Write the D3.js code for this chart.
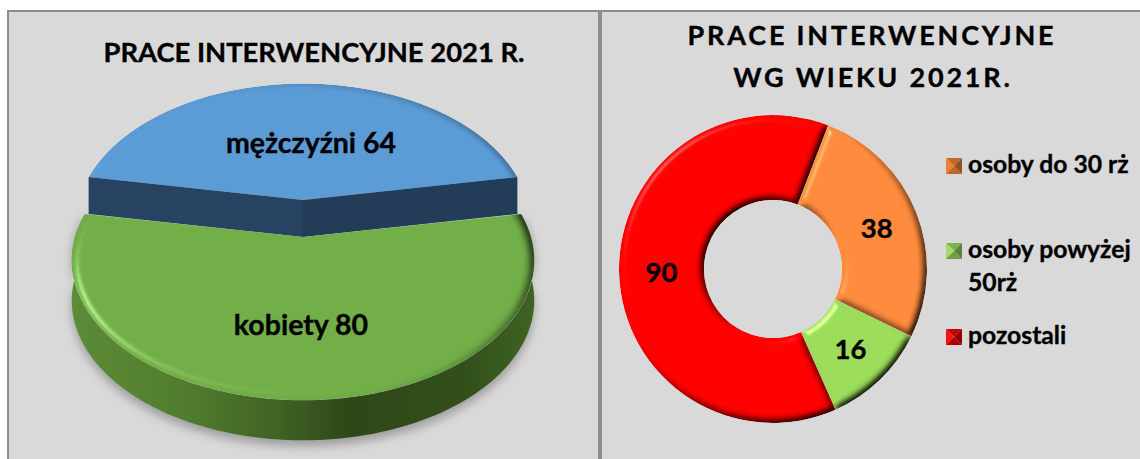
<!DOCTYPE html>
<html lang="pl">
<head>
<meta charset="utf-8">
<title>Prace interwencyjne 2021</title>
<script src="https://d3js.org/d3.v7.min.js"></script>
<style>
  html, body { margin: 0; background: #fff; }
  svg { display: block; }
  text { font-family: Lato, "Open Sans", sans-serif; font-weight: 700; fill: #000; stroke: #000; stroke-width: 0.35px; }
</style>
</head>
<body>
<svg id="chart" width="1140" height="459"></svg>
<script>
// Pie data
const pieCategories = ['mężczyźni', 'kobiety'];
const pieValues = [64, 80];
const pieColors = ['#5b9bd5', '#70ad47'];

// Doughnut data
const ringCategories = ['osoby do 30 rż', 'osoby powyżej 50rż', 'pozostali'];
const ringValues = [38, 16, 90];
const ringColors = ['#ff8b3d', '#9bdc5a', '#ff0000'];

const svg = d3.select('#chart');
const defs = svg.append('defs');

// ─── FILTERS / GRADIENTS ───

const addBevel = (id, blur, scale, azimuth, elevation, spec) => {
  const f = defs.append('filter').attr('id', id)
    .attr('x', '-5%').attr('y', '-5%').attr('width', '110%').attr('height', '110%')
    .attr('color-interpolation-filters', 'sRGB');
  f.append('feGaussianBlur').attr('in', 'SourceAlpha').attr('stdDeviation', blur).attr('result', 'b');
  f.append('feDiffuseLighting').attr('in', 'b').attr('surfaceScale', scale)
    .attr('diffuseConstant', 1 / Math.sin(elevation * Math.PI / 180))
    .attr('lighting-color', '#fff').attr('result', 'dif')
    .append('feDistantLight').attr('azimuth', azimuth).attr('elevation', elevation);
  f.append('feSpecularLighting').attr('in', 'b').attr('surfaceScale', scale)
    .attr('specularConstant', spec).attr('specularExponent', 60)
    .attr('lighting-color', '#fff').attr('result', 'spc')
    .append('feDistantLight').attr('azimuth', azimuth).attr('elevation', elevation);
  f.append('feComposite').attr('in', 'SourceGraphic').attr('in2', 'dif')
    .attr('operator', 'arithmetic').attr('k1', 1).attr('result', 'lit');
  f.append('feComposite').attr('in', 'lit').attr('in2', 'spc')
    .attr('operator', 'arithmetic').attr('k2', 1).attr('k3', 1).attr('result', 'all');
  f.append('feComposite').attr('in', 'all').attr('in2', 'SourceAlpha').attr('operator', 'in');
};
addBevel('ringBevel', 3.5, 3.5, 225, 45, 0.35);
addBevel('pieBevel0', 3, 1.2, 170, 50, 0.1);
addBevel('pieBevel1', 4, 3.5, 150, 50, 0.25);

defs.append('filter').attr('id', 'soft')
  .attr('x', '-10%').attr('y', '-10%').attr('width', '120%').attr('height', '120%')
  .append('feGaussianBlur').attr('stdDeviation', 5);

const sideGrad = defs.append('linearGradient').attr('id', 'sideGrad');
[[0, '#5c8c36'], [0.25, '#517c2e'], [0.45, '#3f6323'], [0.6, '#2e4717'], [0.85, '#32501a'], [1, '#3f6323']]
  .forEach(s => sideGrad.append('stop').attr('offset', s[0]).attr('stop-color', s[1]));

// ─── BACKGROUND ───

svg.append('rect').attr('x', 8).attr('y', 11).attr('width', 1140).attr('height', 459)
  .attr('fill', '#d9d9d9').attr('stroke', '#8c8c8c').attr('stroke-width', 2);
svg.append('line').attr('x1', 600).attr('x2', 600).attr('y1', 11).attr('y2', 459)
  .attr('stroke', '#8c8c8c').attr('stroke-width', 4);

// ─── LEFT: 3D PIE ───

const PERSP = 0.167;
const RY = 136;
const DEPTH = 40;

// angle -> screen point on a tilted disc
const project = (cx, cy, rx) => a => {
  const u = Math.sin(a), v = -Math.cos(a);
  const d = 1 - PERSP * v;
  return [cx + rx * u / d, cy + RY * v / d];
};
const sampleAngles = (a0, a1) => d3.range(0, 121).map(i => a0 + (a1 - a0) * i / 120);
const line = d3.line();

const halfBlue = (pieValues[0] / d3.sum(pieValues)) * Math.PI;
const pieArcs = d3.pie().sort(null)
  .startAngle(-halfBlue).endAngle(2 * Math.PI - halfBlue)(pieValues);

const discs = [
  { cx: 303, cy: 200, rx: 224 },
  { cx: 303, cy: 237, rx: 228 }
];
const left = svg.append('g');

const sectorPath = (d, i) => {
  const p = project(discs[i].cx, discs[i].cy, discs[i].rx);
  return line([[discs[i].cx, discs[i].cy]].concat(sampleAngles(d.startAngle, d.endAngle).map(p))) + 'Z';
};
const bandPath = (d, i, depth) => {
  const p = project(discs[i].cx, discs[i].cy, discs[i].rx);
  const rim = sampleAngles(d.startAngle, d.endAngle).map(p);
  const low = rim.map(q => [q[0], q[1] + depth]).reverse();
  return line(rim.concat(low)) + 'Z';
};

// shadow and side of the front slice
left.append('path').attr('d', bandPath(pieArcs[1], 1, DEPTH + 6))
  .attr('fill', '#777').attr('opacity', 0.6).attr('filter', 'url(#soft)');
left.append('path').attr('d', bandPath(pieArcs[1], 1, DEPTH)).attr('fill', 'url(#sideGrad)');

// top faces, bevelled as whole discs and clipped to the slice
const drawDisc = (d, i) => {
  const id = 'clip' + i;
  defs.append('clipPath').attr('id', id).append('path').attr('d', sectorPath(d, i));
  const whole = sampleAngles(0, 2 * Math.PI).map(project(discs[i].cx, discs[i].cy, discs[i].rx));
  left.append('g').attr('clip-path', `url(#${id})`)
    .append('path').attr('d', line(whole) + 'Z').attr('fill', pieColors[i]).attr('filter', `url(#pieBevel${i})`);
};
drawDisc(pieArcs[0], 0);

// cut faces of the back slice
const back = project(discs[0].cx, discs[0].cy, discs[0].rx);
const apex = [discs[0].cx, discs[0].cy];
const cutDepth = discs[1].cy - discs[0].cy;
[[pieArcs[0].startAngle, '#274361'], [pieArcs[0].endAngle, '#233d59']].forEach(c => {
  const q = back(c[0]);
  left.append('path')
    .attr('d', line([q, apex, [apex[0], apex[1] + cutDepth], [q[0], q[1] + cutDepth]]) + 'Z')
    .attr('fill', c[1]);
});

drawDisc(pieArcs[1], 1);

left.append('text').attr('x', 311).attr('y', 153).attr('text-anchor', 'middle').attr('font-size', 28.5)
  .text(`${pieCategories[0]} ${pieValues[0]}`);
left.append('text').attr('x', 301).attr('y', 335).attr('text-anchor', 'middle').attr('font-size', 28.5)
  .text(`${pieCategories[1]} ${pieValues[1]}`);

left.append('text').attr('x', 314).attr('y', 62).attr('text-anchor', 'middle').attr('font-size', 27.4)
  .text('PRACE INTERWENCYJNE 2021 R.');

// ─── RIGHT: DOUGHNUT ───

const ringCx = 773, ringCy = 269;
const ringStart = 21 * Math.PI / 180;
const ringArcs = d3.pie().sort(null).startAngle(ringStart).endAngle(ringStart + 2 * Math.PI)(ringValues);
const arc = d3.arc().innerRadius(69).outerRadius(154);

const ring = svg.append('g').attr('transform', `translate(${ringCx},${ringCy})`);
ring.selectAll('path').data(ringArcs).enter().append('path')
  .attr('d', arc)
  .attr('fill', (d, i) => ringColors[i])
  .attr('filter', 'url(#ringBevel)');
ring.selectAll('text').data(ringArcs).enter().append('text')
  .attr('transform', d => `translate(${arc.centroid(d)})`)
  .attr('text-anchor', 'middle').attr('dy', '0.36em').attr('font-size', 27.5)
  .text(d => d.value);

const rightTitle = svg.append('g').attr('font-size', 27).attr('letter-spacing', 2.8);
rightTitle.append('text').attr('x', 872).attr('y', 45).attr('text-anchor', 'middle').text('PRACE INTERWENCYJNE');
rightTitle.append('text').attr('x', 873).attr('y', 87).attr('text-anchor', 'middle').text('WG WIEKU 2021R.');

// ─── LEGEND ───

const legendRows = [
  { y: 158, lines: ['osoby do 30 rż'] },
  { y: 243, lines: ['osoby powyżej', '50rż'] },
  { y: 329, lines: ['pozostali'] }
];
const legendShades = [
  ['#c06a2c', '#f08030', '#c0682a', '#8f5222'],
  ['#80b050', '#a6d96a', '#6f9e44', '#5c8438'],
  ['#c40000', '#ff1010', '#b00000', '#900000']
];
const S = 16;
legendRows.forEach((row, i) => {
  const g = svg.append('g').attr('transform', `translate(946,${row.y})`);
  const m = [S / 2, S / 2];
  const corners = [[0, 0], [S, 0], [S, S], [0, S]];
  // top, left, bottom, right facets
  [[0, 1, 0], [3, 0, 1], [2, 3, 2], [1, 2, 3]].forEach(t => {
    g.append('path').attr('d', line([corners[t[0]], corners[t[1]], m]) + 'Z')
      .attr('fill', legendShades[i][t[2]]);
  });
  row.lines.forEach((txt, j) => {
    svg.append('text').attr('x', 968).attr('y', row.y + 15 + j * 33).attr('font-size', 24.7).text(txt);
  });
});
</script>
</body>
</html>
